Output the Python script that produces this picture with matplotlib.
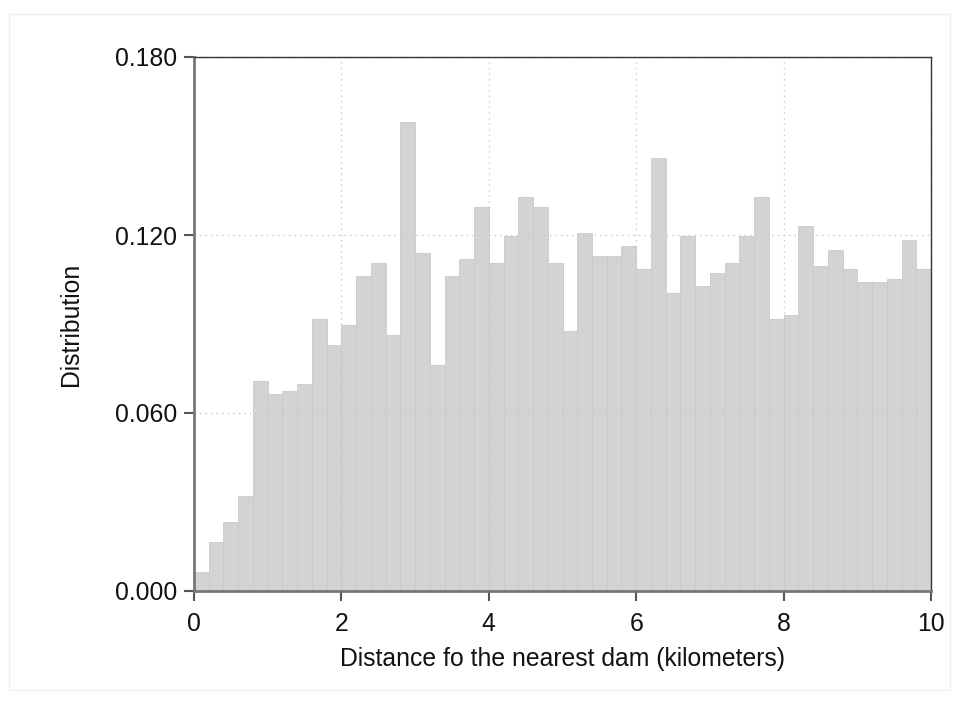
import numpy as np
import matplotlib.pyplot as plt
from matplotlib.patches import Rectangle

plt.rcParams['font.family'] = ['Liberation Sans', 'DejaVu Sans']

# Bin edges (km) and heights
bin_start = 0.0
bin_width = 0.2
heights = [0.0065, 0.0165, 0.0231, 0.0320, 0.0707, 0.0664, 0.0675, 0.0697, 0.0917, 0.0828,
           0.0895, 0.1063, 0.1105, 0.0862, 0.1581, 0.1139, 0.0763, 0.1063, 0.1118, 0.1294,
           0.1105, 0.1195, 0.1328, 0.1294, 0.1105, 0.0876, 0.1207, 0.1128, 0.1128, 0.1162,
           0.1084, 0.1460, 0.1006, 0.1195, 0.1029, 0.1073, 0.1107, 0.1195, 0.1328, 0.0917,
           0.0929, 0.1229, 0.1095, 0.1151, 0.1084, 0.1040, 0.1040, 0.1051, 0.1184, 0.1084]
x_ticks = [0, 2, 4, 6, 8, 10]
y_ticks = [0.0, 0.06, 0.12, 0.18]
y_ticklabels = ['0.000', '0.060', '0.120', '0.180']

left_edges = bin_start + bin_width * np.arange(len(heights))

fig = plt.figure(figsize=(9.6, 7.04), dpi=100)
# faint outer frame of the graph region
fig.patches.append(Rectangle((9 / 960, 1 - 690 / 704), 941 / 960, 676 / 704,
                             transform=fig.transFigure, fill=False,
                             edgecolor='#f0f0f0', linewidth=1))
ax = fig.add_axes([194 / 960, 1 - 591 / 704, 737 / 960, 534 / 704])

ax.bar(left_edges, heights, width=bin_width, align='edge',
       color='#d3d3d3', edgecolor='#cacaca', linewidth=0.6, zorder=2)

ax.set_xlim(0, 10)
ax.set_ylim(0, 0.18)
ax.set_xticks(x_ticks)
ax.set_yticks(y_ticks)
ax.set_yticklabels(y_ticklabels)
ax.grid(True, linestyle=(0, (1, 3)), color='#c8c8c8', linewidth=1, zorder=3)

for s in ax.spines.values():
    s.set_color('#333333')
    s.set_linewidth(1)
    s.set_zorder(5)
ax.spines['left'].set_color('#777777')
ax.spines['left'].set_linewidth(2)
ax.spines['bottom'].set_color('#777777')
ax.spines['bottom'].set_linewidth(2)
ax.set_axisbelow(False)

ax.tick_params(direction='out', length=7, width=1.5, color='#555555',
               labelsize=17.8, labelcolor='#111111', pad=5)
ax.tick_params(axis='x', pad=8)

ax.set_xlabel('Distance fo the nearest dam (kilometers)', fontsize=17.8,
              color='#111111', labelpad=8)
ax.set_ylabel('Distribution', fontsize=17.8, color='#111111', labelpad=23)

fig.savefig('out.png', dpi=100, facecolor='white')
